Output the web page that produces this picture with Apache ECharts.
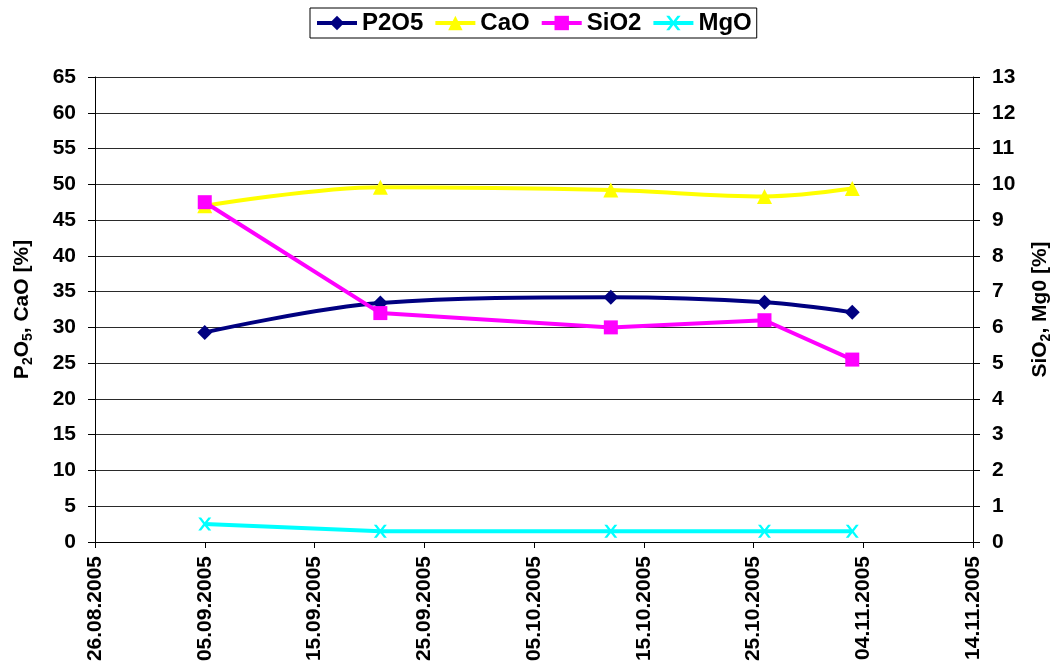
<!DOCTYPE html>
<html>
<head>
<meta charset="utf-8">
<script src="https://cdn.jsdelivr.net/npm/echarts@6/dist/echarts.min.js"></script>
<style>
  html, body { margin: 0; padding: 0; background: #fff; }
  #chart { width: 1061px; height: 664px; }
</style>
</head>
<body>
<div id="chart"></div>
<script>
// Sampling dates and measured contents
const sampleDates = ['05.09.2005', '21.09.2005', '12.10.2005', '26.10.2005', '03.11.2005'];
const p2o5 = [29.3, 33.4, 34.2, 33.5, 32.1];   // left axis
const cao  = [47.0, 49.6, 49.2, 48.3, 49.4];   // left axis
const sio2 = [9.5, 6.4, 6.0, 6.2, 5.1];        // right axis
const mgo  = [0.5, 0.3, 0.3, 0.3, 0.3];        // right axis

// Date axis: days counted from the first tick date
const axisStart = '26.08.2005';
const axisEnd = '14.11.2005';
const tickStepDays = 10;

const DAY = 86400000;
function parseDate(s) {
  const [d, m, y] = s.split('.').map(Number);
  return Date.UTC(y, m - 1, d);
}
const origin = parseDate(axisStart);
function toDays(s) { return Math.round((parseDate(s) - origin) / DAY); }
function fmtDays(v) {
  const dt = new Date(origin + v * DAY);
  const dd = String(dt.getUTCDate()).padStart(2, '0');
  const mm = String(dt.getUTCMonth() + 1).padStart(2, '0');
  return dd + '.' + mm + '.' + dt.getUTCFullYear();
}
const xs = sampleDates.map(toDays);
const pairs = arr => arr.map((v, i) => [xs[i], v]);

const FONT = '"Liberation Sans", Arial, sans-serif';
const crossPath = 'path://M0,0L2.2,0L5,3.6L7.8,0L10,0L6.2,5L10,10L7.8,10L5,6.4L2.2,10L0,10L3.8,5Z';

const titleRich = {
  n: { fontFamily: FONT, fontSize: 21, fontWeight: 'bold', color: '#000', lineHeight: 26 },
  s: { fontFamily: FONT, fontSize: 14, fontWeight: 'bold', color: '#000', lineHeight: 14, verticalAlign: 'bottom' }
};

const chart = echarts.init(document.getElementById('chart'));
chart.setOption({
  animation: false,
  backgroundColor: '#fff',
  textStyle: { fontFamily: FONT },
  grid: { left: 95, right: 88, top: 77, bottom: 122, containLabel: false, outerBoundsMode: 'none' },
  legend: {
    top: 8,
    left: 310,
    borderColor: '#000',
    borderWidth: 1,
    padding: [3, 5],
    itemGap: 10,
    itemWidth: 40,
    itemHeight: 18,
    lineStyle: { width: 4 },
    textStyle: { fontFamily: FONT, fontSize: 24, fontWeight: 'bold', color: '#000' },
    data: ['P2O5', 'CaO', 'SiO2', 'MgO']
  },
  xAxis: {
    type: 'value',
    min: 0,
    max: toDays(axisEnd),
    interval: tickStepDays,
    axisLine: { onZero: false, lineStyle: { color: '#000', width: 1 } },
    axisTick: { show: true, length: 6, inside: false, lineStyle: { color: '#000' } },
    splitLine: { show: false },
    axisLabel: {
      rotate: 90,
      margin: 14,
      formatter: fmtDays,
      fontFamily: FONT, fontSize: 21, fontWeight: 'bold', color: '#000'
    }
  },
  yAxis: [
    {
      type: 'value',
      min: 0, max: 65, interval: 5,
      position: 'left',
      name: '{n|P}{s|2}{n|O}{s|5}{n|, CaO [%]}',
      nameLocation: 'middle',
      nameRotate: 90,
      nameGap: 60,
      nameTextStyle: { rich: titleRich },
      axisLine: { show: true, lineStyle: { color: '#000', width: 1 } },
      axisTick: { show: true, length: 7, inside: false, lineStyle: { color: '#000' } },
      splitLine: { show: true, lineStyle: { color: '#2a2a2a', width: 1 } },
      axisLabel: { margin: 19, fontFamily: FONT, fontSize: 21, fontWeight: 'bold', color: '#000' }
    },
    {
      type: 'value',
      min: 0, max: 13, interval: 1,
      position: 'right',
      name: '{n|SiO}{s|2}{n|, Mg0 [%]}',
      nameLocation: 'middle',
      nameRotate: 90,
      nameGap: 54,
      nameTextStyle: { rich: titleRich },
      axisLine: { show: true, lineStyle: { color: '#000', width: 1 } },
      axisTick: { show: true, length: 7, inside: false, lineStyle: { color: '#000' } },
      splitLine: { show: false },
      axisLabel: { margin: 19, fontFamily: FONT, fontSize: 21, fontWeight: 'bold', color: '#000' }
    }
  ],
  series: [
    {
      name: 'P2O5', type: 'line', yAxisIndex: 0,
      data: pairs(p2o5),
      smooth: 0.35,
      symbol: 'diamond', symbolSize: 15,
      lineStyle: { color: '#000080', width: 4 },
      itemStyle: { color: '#000080' }
    },
    {
      name: 'CaO', type: 'line', yAxisIndex: 0,
      data: pairs(cao),
      smooth: 0.35,
      symbol: 'triangle', symbolSize: 15,
      lineStyle: { color: '#FFFF00', width: 4 },
      itemStyle: { color: '#FFFF00' }
    },
    {
      name: 'SiO2', type: 'line', yAxisIndex: 1,
      data: pairs(sio2),
      smooth: false,
      symbol: 'rect', symbolSize: 14,
      lineStyle: { color: '#FF00FF', width: 4 },
      itemStyle: { color: '#FF00FF' }
    },
    {
      name: 'MgO', type: 'line', yAxisIndex: 1,
      data: pairs(mgo),
      smooth: false,
      symbol: crossPath, symbolSize: 13,
      lineStyle: { color: '#00FFFF', width: 4 },
      itemStyle: { color: '#00FFFF' }
    }
  ]
});
</script>
</body>
</html>
